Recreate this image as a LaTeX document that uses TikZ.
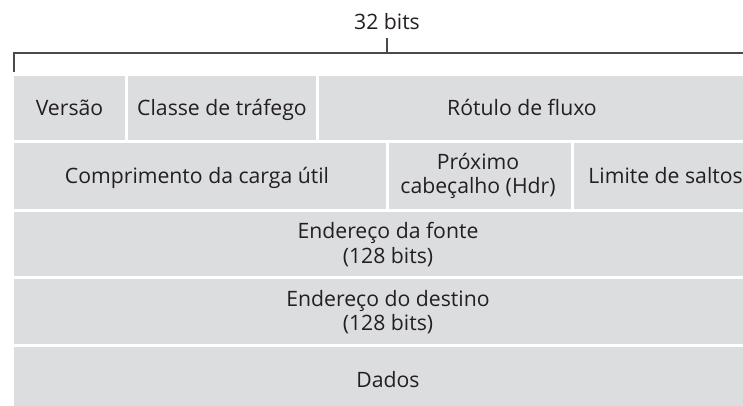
\documentclass[tikz,border=0pt]{standalone}
\usepackage{fontspec}
\setmainfont{Open Sans}
\definecolor{cellgray}{HTML}{DCDDDF}
\definecolor{txt}{HTML}{231F20}
\definecolor{linegray}{HTML}{4A4A4A}
\begin{document}
\begin{tikzpicture}[x=1pt,y=-1pt,
  cell/.style={fill=cellgray},
  lbl/.style={text=txt,font=\fontsize{21.2}{24.5}\selectfont,align=center,inner sep=0pt},
  one/.style={lbl,anchor=base},
  brk/.style={draw=linegray,line width=1.1pt}]
\useasboundingbox (0,0) rectangle (743,406);
\clip (0,0) rectangle (743,406);
% row 1
\fill[cell] (14,76) rectangle (125,140);
\fill[cell] (128,76) rectangle (316,140);
\fill[cell] (319,76) rectangle (770,140);
% row 2
\fill[cell] (14,143) rectangle (385.5,209);
\fill[cell] (388.5,143) rectangle (571,209);
\fill[cell] (574,143) rectangle (770,209);
% rows 3-5
\fill[cell] (14,212) rectangle (770,276);
\fill[cell] (14,279) rectangle (770,344);
\fill[cell] (14,347) rectangle (770,420);
% labels
\node[one] (ver) at (69.5,115.7) {Versão};
\node[one] (cls) at (222,115.7) {Classe de tráfego};
\node[one] (rot) at (522,115.7) {Rótulo de fluxo};
\node[one] (comp) at (197,183.3) {Comprimento da carga útil};
\node[lbl] (prox) at (478,176) {Próximo\\cabeçalho (Hdr)};
\node[one,anchor=base east] (lim) at (743,183.3) {Limite de saltos};
\node[lbl] (src) at (388,244.5) {Endereço da fonte\\(128 bits)};
\node[lbl] (dst) at (388,312) {Endereço do destino\\(128 bits)};
\node[one] (dados) at (388,387.3) {Dados};
% bracket
\node[one] (bits) at (387,30) {32 bits};
\coordinate (bl) at (14,72);
\coordinate (tl) at (14,53);
\coordinate (tr) at (770,53);
\coordinate (tm) at (387,53);
\coordinate (tt) at (387,38.3);
\draw[brk] (bl) -- (tl) -- (tr);
\draw[brk] (tm) -- (tt);
\end{tikzpicture}
\end{document}
